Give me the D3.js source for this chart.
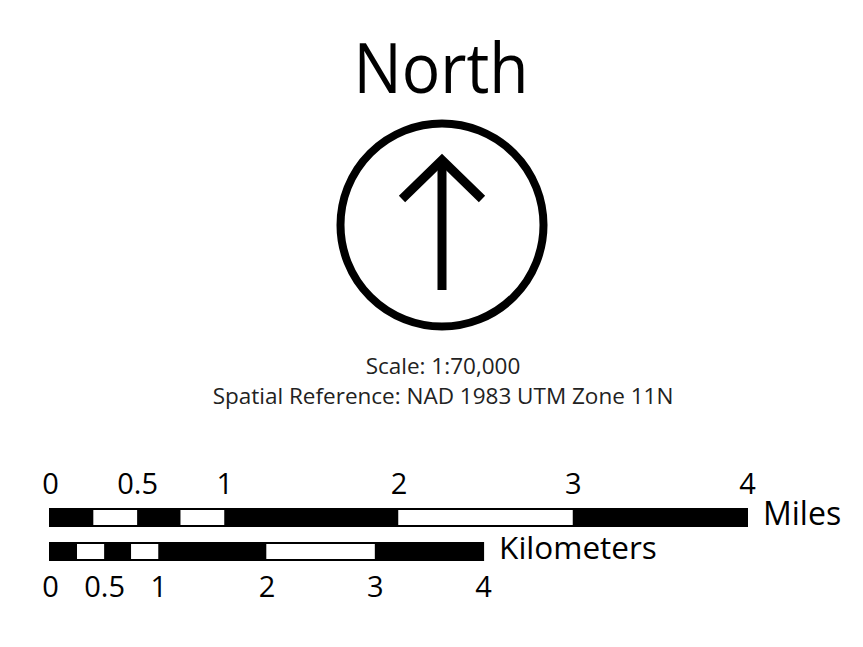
<!DOCTYPE html>
<html>
<head>
<meta charset="utf-8">
<script src="https://cdn.jsdelivr.net/npm/d3@7"></script>
<style>
  body{margin:0;background:#fff;}
  svg{display:block;font-family:"Open Sans",sans-serif;}
</style>
</head>
<body>
<svg id="chart" width="863" height="647"></svg>
<script>
// <-- Data -->
const title = "North";
const infoLines = ["Scale: 1:70,000", "Spatial Reference: NAD 1983 UTM Zone 11N"];
const mileBreaks = [0, 0.25, 0.5, 0.75, 1, 2, 3, 4];
const mileTicks = [0, 0.5, 1, 2, 3, 4];
const kmBreaks = [0, 0.25, 0.5, 0.75, 1, 2, 3, 4];
const kmTicks = [0, 0.5, 1, 2, 3, 4];
const METERS_PER_MILE = 1609.344;

;(function(){
  const svg = d3.select("#chart");

  // north arrow
  svg.append("text")
     .attr("x", 441).attr("y", 93)
     .attr("text-anchor", "middle")
     .attr("font-size", 70)
     .attr("textLength", 175)
     .attr("lengthAdjust", "spacingAndGlyphs")
     .text(title);

  const cx = 442, cy = 225;
  svg.append("circle")
     .attr("cx", cx).attr("cy", cy).attr("r", 101.5)
     .attr("fill", "none").attr("stroke", "#000").attr("stroke-width", 8);
  svg.append("path")
     .attr("d", "M" + cx + ",290 L" + cx + ",162")
     .attr("stroke", "#000").attr("stroke-width", 9).attr("fill", "none");
  svg.append("path")
     .attr("d", "M" + (cx - 40) + ",199 L" + cx + ",160 L" + (cx + 40) + ",199")
     .attr("stroke", "#000").attr("stroke-width", 9).attr("fill", "none")
     .attr("stroke-linejoin", "miter");

  svg.selectAll(".info")
     .data(infoLines)
     .enter().append("text")
     .attr("class", "info")
     .attr("x", 443)
     .attr("y", (d, i) => 374 + i * 30)
     .attr("text-anchor", "middle")
     .attr("font-size", 22.5)
     .attr("fill", "#222")
     .text(d => d);

  // one ground scale for both bars, in meters
  const x = d3.scaleLinear()
              .domain([0, 4 * METERS_PER_MILE])
              .range([50, 747]);

  function draw_bar(breaks, ticks, unit, top, h, below, name, nameSize){
    const m = v => v * unit;
    const segs = d3.pairs(breaks);
    const g = svg.append("g");
    g.selectAll("rect.seg")
     .data(segs)
     .enter().append("rect")
     .attr("class", "seg")
     .attr("x", d => x(m(d[0])))
     .attr("width", d => x(m(d[1])) - x(m(d[0])))
     .attr("y", top).attr("height", h)
     .attr("fill", (d, i) => i % 2 ? "#fff" : "#000");
    g.append("rect")
     .attr("x", x(0)).attr("y", top)
     .attr("width", x(m(breaks[breaks.length - 1])) - x(0))
     .attr("height", h)
     .attr("fill", "none").attr("stroke", "#000").attr("stroke-width", 2);

    const axis = (below ? d3.axisBottom(x) : d3.axisTop(x))
                  .tickValues(ticks.map(m))
                  .tickSize(0)
                  .tickPadding(0)
                  .tickFormat((d, i) => ticks[i]);
    const ag = svg.append("g")
                  .attr("transform", "translate(0," + (below ? top + h + 16 : top - 15) + ")")
                  .call(axis);
    ag.select(".domain").remove();
    ag.selectAll("text")
      .attr("font-family", "Open Sans, sans-serif")
      .attr("font-size", 29)
      .attr("fill", "#000")
      .attr("dy", below ? "0.71em" : "0");

    svg.append("text")
       .attr("x", x(m(breaks[breaks.length - 1])) + 16)
       .attr("y", top + h - 1)
       .attr("font-size", nameSize)
       .text(name);
  }

  draw_bar(mileBreaks, mileTicks, METERS_PER_MILE, 509, 17, false, "Miles", 32);
  draw_bar(kmBreaks, kmTicks, 1000, 543, 17, true, "Kilometers", 31.5);
})();
</script>
</body>
</html>
